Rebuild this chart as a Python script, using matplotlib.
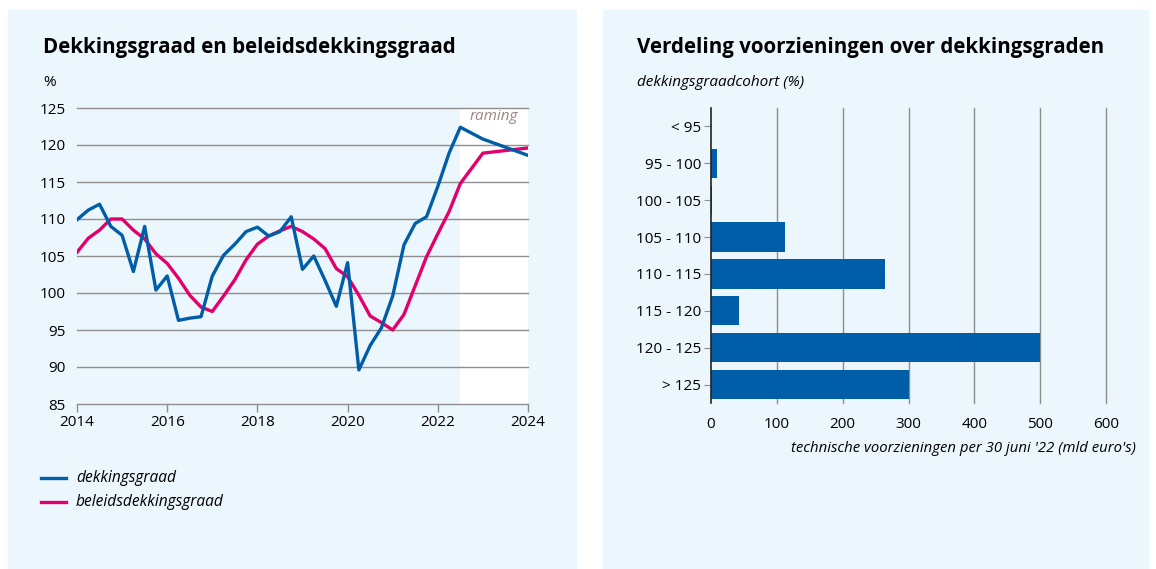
import numpy as np
import matplotlib.pyplot as plt
from matplotlib.patches import Rectangle

# data linker grafiek: kwartalen 2014 t/m medio 2022, daarna raming per jaar
jaren = list(np.arange(2014, 2022.51, 0.25)) + [2023, 2024]
dekkingsgraad = [109.9, 111.2, 112.0, 109.0,
                 107.8, 102.9, 109.0, 100.4,
                 102.3, 96.3, 96.6, 96.8,
                 102.3, 105.1, 106.6, 108.3,
                 108.9, 107.7, 108.3, 110.3,
                 103.2, 105.0, 101.7, 98.2,
                 104.1, 89.6, 92.9, 95.3,
                 99.6, 106.5, 109.4, 110.3,
                 114.4, 118.9, 122.4,
                 120.8, 118.6]
beleidsdekkingsgraad = [105.5, 107.4, 108.5, 110.0,
                        110.0, 108.5, 107.3, 105.3,
                        104.0, 102.0, 99.7, 98.1,
                        97.5, 99.6, 101.8, 104.5,
                        106.6, 107.7, 108.4, 109.0,
                        108.3, 107.3, 106.0, 103.3,
                        102.2, 99.7, 96.9, 96.0,
                        95.0, 97.1, 101.0, 104.9,
                        108.0, 111.0, 114.8,
                        118.9, 119.6]
raming_start = 2022.5

# data rechter grafiek
cohorten = ['< 95', '95 - 100', '100 - 105', '105 - 110', '110 - 115',
            '115 - 120', '120 - 125', '> 125']
voorzieningen = [0, 9, 1, 113, 265, 43, 500, 301]

blauw = '#005ea8'
roze = '#e3006d'
achtergrond = '#ecf6fd'
grijs = '#8f8f8f'

plt.rcParams['font.family'] = ['Open Sans', 'DejaVu Sans']

fig = plt.figure(figsize=(11.56, 5.69), dpi=100)
W, H = 1156, 569

def fx(px):
    return px / W

def fy(py):
    return 1 - py / H

# achtergrondpanelen
fig.patches.append(Rectangle((fx(8), fy(568)), fx(576 - 8), (568 - 10) / H,
                             transform=fig.transFigure, color=achtergrond, zorder=-5))
fig.patches.append(Rectangle((fx(603), fy(568)), fx(1148 - 603), (568 - 10) / H,
                             transform=fig.transFigure, color=achtergrond, zorder=-5))

# ---- linker grafiek
ax1 = fig.add_axes([fx(77), fy(404), fx(528 - 77), (404 - 108) / H])
ax1.set_facecolor('none')
ax1.axvspan(raming_start, 2024, color='white', zorder=0)
for v in range(85, 126, 5):
    ax1.axhline(v, color=grijs, lw=1, zorder=1, clip_on=False)
ax1.plot(jaren, beleidsdekkingsgraad, color=roze, lw=2.4, zorder=3, label='beleidsdekkingsgraad')
ax1.plot(jaren, dekkingsgraad, color=blauw, lw=2.4, zorder=4, label='dekkingsgraad')
ax1.set_xlim(2014, 2024)
ax1.set_ylim(85, 125)
ax1.set_xticks(range(2014, 2025, 2))
ax1.set_yticks(range(85, 126, 5))
for s in ax1.spines.values():
    s.set_visible(False)
ax1.tick_params(axis='y', length=0, pad=8, labelsize=11)
ax1.tick_params(axis='x', length=6, color=grijs, width=1, pad=2, labelsize=11)
ax1.text(2023.25, 123.8, 'raming', style='italic', color='#9a8682', fontsize=11,
         ha='center', va='center')

fig.text(fx(43), fy(47), 'Dekkingsgraad en beleidsdekkingsgraad', fontsize=14.8,
         fontweight='bold', ha='left', va='center')
fig.text(fx(43), fy(82), '%', fontsize=11, ha='left', va='center')

# legenda
fig.lines.append(plt.Line2D([fx(41), fx(66)], [fy(478), fy(478)], color=blauw, lw=2.4,
                            transform=fig.transFigure))
fig.lines.append(plt.Line2D([fx(41), fx(66)], [fy(502), fy(502)], color=roze, lw=2.4,
                            transform=fig.transFigure))
fig.text(fx(76), fy(478), 'dekkingsgraad', style='italic', fontsize=11.2, va='center')
fig.text(fx(76), fy(502), 'beleidsdekkingsgraad', style='italic', fontsize=11.2, va='center')

# ---- rechter grafiek
ax2 = fig.add_axes([fx(711), fy(403), fx(1106 - 711), (403 - 108) / H])
ax2.set_facecolor('none')
ypos = np.arange(len(cohorten))
ax2.barh(ypos, voorzieningen, height=0.79, color=blauw, zorder=3)
ax2.set_xlim(0, 600)
ax2.set_ylim(len(cohorten) - 0.5, -0.5)
ax2.set_xticks(range(0, 601, 100))
ax2.set_yticks(ypos)
ax2.set_yticklabels(cohorten)
for x in range(100, 601, 100):
    ax2.axvline(x, color=grijs, lw=1, zorder=1, clip_on=False)
for k in ['top', 'right', 'bottom']:
    ax2.spines[k].set_visible(False)
ax2.spines['left'].set_color('#222222')
ax2.spines['left'].set_linewidth(1.2)
ax2.spines['left'].set_zorder(4)
ax2.tick_params(axis='y', length=5, color=grijs, pad=2, labelsize=11)
ax2.tick_params(axis='x', length=0, pad=10, labelsize=11)
fig.text(fx(1136), fy(449), "technische voorzieningen per 30 juni '22 (mld euro's)",
         style='italic', fontsize=10.7, ha='right', va='center')

fig.text(fx(637), fy(47), 'Verdeling voorzieningen over dekkingsgraden', fontsize=14.8,
         fontweight='bold', ha='left', va='center')
fig.text(fx(637), fy(82), 'dekkingsgraadcohort (%)', style='italic', fontsize=11,
         ha='left', va='center')

fig.savefig('out.png', dpi=100)
